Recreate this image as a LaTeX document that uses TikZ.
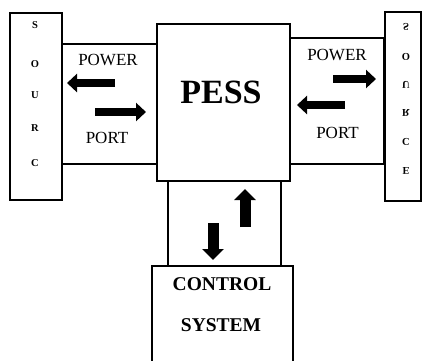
\documentclass[tikz,border=0pt]{standalone}
\usepackage{fontspec}
\usepackage{graphicx}
\setmainfont{Liberation Serif}
\usetikzlibrary{arrows.meta}
\tikzset{
  blk/.style={draw=black, line width=1.2pt, rectangle, inner sep=0pt, fill=white},
  lbl/.style={font=\fontsize{17}{17}\selectfont, inner sep=0pt},
  big/.style={font=\fontsize{34}{34}\selectfont\bfseries, inner sep=0pt},
  ctl/.style={font=\fontsize{19.5}{19.5}\selectfont\bfseries, inner sep=0pt},
  let/.style={font=\fontsize{10.5}{10.5}\selectfont\bfseries, inner sep=0pt},
  harrow/.style={line width=8pt, -{Triangle[width=18pt,length=10pt]}},
  varrow/.style={line width=11pt, -{Triangle[width=21pt,length=11pt]}}
}
\begin{document}
\begin{tikzpicture}[x=1pt,y=-1pt]
\useasboundingbox (0,0) rectangle (422,360);
\clip (0,0) rectangle (422,360);
\fill[white] (0,0) rectangle (422,360);
% boxes
\node[blk, minimum width=52pt, minimum height=187pt] (srcL) at (36,106.5) {};
\node[blk, minimum width=95pt, minimum height=120pt] (portL) at (109.5,104) {};
\node[blk, minimum width=95pt, minimum height=126pt] (portR) at (336.5,101) {};
\node[blk, minimum width=36pt, minimum height=189pt] (srcR) at (403,106.5) {};
\node[blk, minimum width=113pt, minimum height=85pt] (link) at (224.5,223.5) {};
\node[blk, minimum width=133pt, minimum height=157pt] (pess) at (223.5,102.5) {};
\node[blk, minimum width=141pt, minimum height=120pt] (ctrl) at (222.5,326) {};
% left source letters
\node[let] (l1) at (35,25) {S};
\node[let] (l2) at (35,64) {O};
\node[let] (l3) at (35,95) {U};
\node[let] (l4) at (35,128) {R};
\node[let] (l5) at (35,163) {C};
% right source letters (printed flipped)
\node[let] (r1) at (406,27) {\scalebox{1}[-1]{S}};
\node[let] (r2) at (406,57) {\scalebox{1}[-1]{O}};
\node[let] (r3) at (406,85) {\scalebox{1}[-1]{U}};
\node[let] (r4) at (406,113) {\scalebox{1}[-1]{R}};
\node[let] (r5) at (406,142) {\scalebox{1}[-1]{C}};
\node[let] (r6) at (406,171) {\scalebox{1}[-1]{E}};
% texts
\node[lbl] (pwL) at (108,60) {POWER};
\node[lbl] (ptL) at (107,138) {PORT};
\node[lbl] (pwR) at (337,55) {POWER};
\node[lbl] (ptR) at (337.5,133) {PORT};
\node[big] (pesst) at (221,92) {PESS};
\node[ctl] (c1) at (222,284) {CONTROL};
\node[ctl] (c2) at (221,325) {SYSTEM};
% arrows
\coordinate (aL1s) at (115,83); \coordinate (aL1e) at (67,83);
\coordinate (aL2s) at (95,112); \coordinate (aL2e) at (146,112);
\coordinate (aR1s) at (333,79); \coordinate (aR1e) at (376,79);
\coordinate (aR2s) at (345,105); \coordinate (aR2e) at (297,105);
\coordinate (aUs) at (245,227); \coordinate (aUe) at (245,189);
\coordinate (aDs) at (213,223); \coordinate (aDe) at (213,260);
\draw[harrow] (aL1s) -- (aL1e);
\draw[harrow] (aL2s) -- (aL2e);
\draw[harrow] (aR1s) -- (aR1e);
\draw[harrow] (aR2s) -- (aR2e);
\draw[varrow] (aUs) -- (aUe);
\draw[varrow] (aDs) -- (aDe);
\end{tikzpicture}
\end{document}
